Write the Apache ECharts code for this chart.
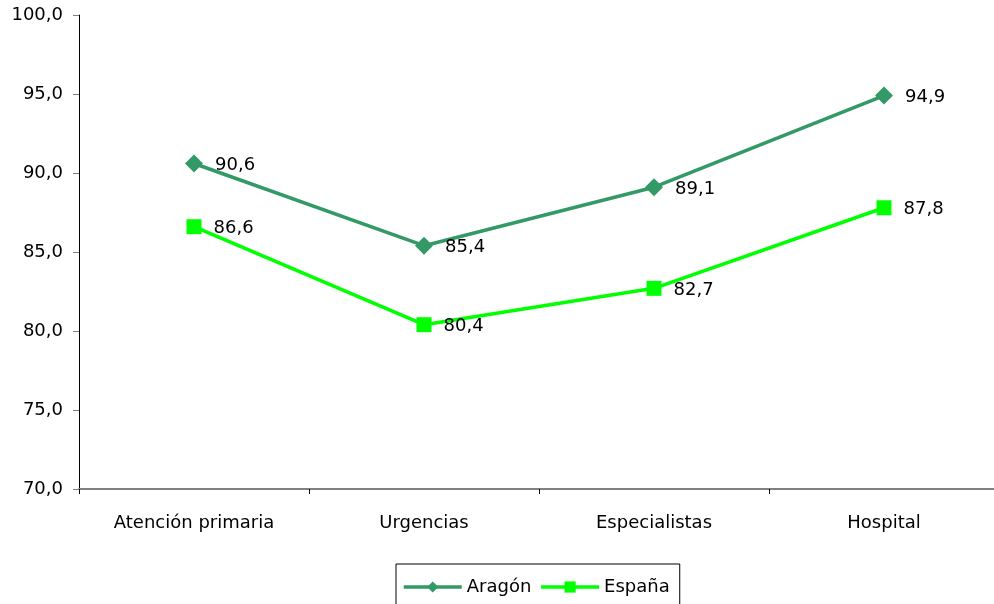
<!DOCTYPE html>
<html><head><meta charset="utf-8">
<script src="https://cdn.jsdelivr.net/npm/echarts@6/dist/echarts.min.js"></script>
<style>html,body{margin:0;padding:0;background:#fff;overflow:hidden}#c{width:999px;height:604px}</style>
</head><body><div id="c"></div>
<script>
const categories = ['Atención primaria', 'Urgencias', 'Especialistas', 'Hospital'];
const aragon = [90.6, 85.4, 89.1, 94.9];
const espana = [86.6, 80.4, 82.7, 87.8];
const fmt = v => Number(v).toFixed(1).replace('.', ',');
const FONT = 'DejaVu Sans';
const FS = 18;
const chart = echarts.init(document.getElementById('c'), null, {renderer: 'canvas'});
chart.setOption({
  animation: false,
  textStyle: {fontFamily: FONT, fontSize: FS},
  grid: {left: 79, right: 0, top: 15, bottom: 115, containLabel: false},
  xAxis: {
    type: 'category', data: categories, boundaryGap: true,
    axisLine: {lineStyle: {color: '#808080', width: 2}},
    axisTick: {show: true, length: 5, lineStyle: {color: '#000', width: 1}},
    axisLabel: {color: '#000', fontSize: FS, fontFamily: FONT, margin: 25}
  },
  yAxis: {
    type: 'value', min: 70, max: 100, interval: 5,
    axisLine: {show: true, lineStyle: {color: '#000', width: 1}},
    axisTick: {show: true, length: 6, lineStyle: {color: '#808080'}},
    splitLine: {show: false},
    axisLabel: {color: '#000', fontSize: FS, fontFamily: FONT, margin: 16, formatter: fmt}
  },
  legend: {
    left: 396, top: 564, itemGap: 8, itemWidth: 58, itemHeight: 14,
    borderColor: '#000', borderWidth: 1, padding: [14, 10, 14, 6],
    lineStyle: {width: 3.5},
    textStyle: {fontSize: FS, color: '#000', fontFamily: FONT},
    data: ['Aragón', 'España']
  },
  series: [
    {
      name: 'Aragón', type: 'line', data: aragon,
      symbol: 'diamond', symbolSize: 18,
      lineStyle: {color: '#339966', width: 3.5},
      itemStyle: {color: '#339966'},
      label: {show: true, position: 'right', distance: 12, offset: [0, 2], color: '#000', fontSize: FS, fontFamily: FONT, formatter: p => fmt(p.value)}
    },
    {
      name: 'España', type: 'line', data: espana,
      symbol: 'rect', symbolSize: 15,
      lineStyle: {color: '#00FF00', width: 3.5},
      itemStyle: {color: '#00FF00'},
      label: {show: true, position: 'right', distance: 12, offset: [0, 2], color: '#000', fontSize: FS, fontFamily: FONT, formatter: p => fmt(p.value)}
    }
  ]
});
</script></body></html>
